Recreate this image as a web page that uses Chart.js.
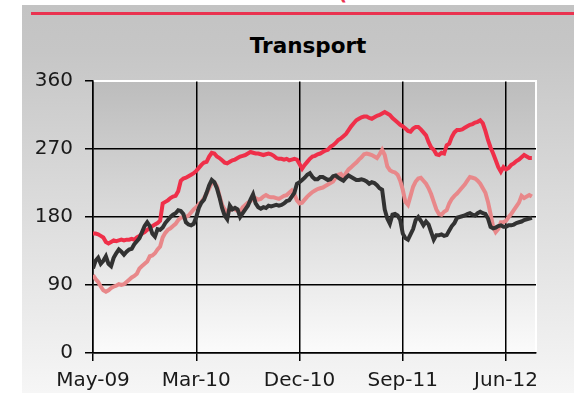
<!DOCTYPE html>
<html>
<head>
<meta charset="utf-8">
<script src="https://cdn.jsdelivr.net/npm/chart.js@4.4.1/dist/chart.umd.min.js"></script>
<style>
  html, body { margin: 0; padding: 0; background: #fff; }
  #wrap { position: relative; width: 574px; height: 393px; overflow: hidden; }
  #panel {
    position: absolute; left: 22px; top: 5px; right: 0; bottom: 0;
    background: linear-gradient(#c3c3c3 0%, #c6c6c6 12%, #f6f6f6 100%);
  }
  #rule { position: absolute; left: 31px; top: 12px; right: 0; height: 3px; background: #ea3350; }
  #cut { position: absolute; left: 338px; top: -19px; color: #ea3350; font: bold 20px "DejaVu Sans"; }
  #title {
    position: absolute; left: 188px; top: 34px; width: 240px; text-align: center;
    font: bold 21.5px/24px "DejaVu Sans"; color: #000;
  }
  #chart { position: absolute; left: 0; top: 0; }
</style>
</head>
<body>
<div id="wrap">
  <div id="panel"></div>
  <div id="rule"></div>
  <div id="cut">(</div>
  <div id="title">Transport</div>
  <canvas id="chart" width="574" height="393"></canvas>
</div>
<script>
// weekly closes, May-09 onwards
const tickLabels = ['May-09', 'Mar-10', 'Dec-10', 'Sep-11', 'Jun-12'];

const transportLine = [
    158, 158, 157, 155, 153, 147, 145, 147, 149, 148,
    149, 150, 149, 150, 150, 151, 150, 153, 155, 158,
    160, 163, 165, 168, 170, 172, 175, 198, 200, 202,
    205, 207, 208, 214, 228, 231, 232, 234, 236, 238,
    241, 245, 249, 252, 253, 260, 265, 264, 260, 258,
    255, 252, 251, 253, 255, 256, 258, 260, 261, 262,
    264, 266, 265, 264, 264, 263, 262, 263, 264, 263,
    261, 258, 257, 257, 256, 257, 255, 256, 257, 256,
    250, 244, 249, 253, 257, 260, 261, 263, 264, 266,
    268, 269, 273, 275, 278, 282, 284, 287, 290, 295,
    300, 304, 308, 310, 312, 313, 313, 311, 310, 312,
    314, 315, 317, 319, 317, 315, 311, 308, 305, 302,
    300, 297, 294, 293, 297, 299, 299, 296, 292, 288,
    279, 272, 269, 263, 262, 265, 264, 275, 277, 286,
    292, 295, 295, 296, 298, 300, 302, 303, 305, 306,
    308, 304, 294, 282, 272, 264, 255, 246, 240, 246,
    243, 245, 249, 251, 254, 256, 259, 262, 260, 258,
    258
];

const peerLine = [
    103, 98, 94, 88, 83, 81, 83, 86, 88, 89,
    91, 90, 91, 94, 97, 100, 102, 105, 112, 115,
    118, 121, 128, 129, 132, 137, 141, 153, 159, 163,
    165, 168, 171, 176, 179, 180, 180, 182, 186, 190,
    193, 197, 200, 205, 211, 218, 225, 226, 221, 208,
    196, 190, 187, 189, 191, 190, 188, 187, 193, 196,
    199, 201, 206, 205, 203, 204, 207, 209, 207, 206,
    206, 205, 204, 206, 208, 209, 212, 215, 210, 202,
    198, 199, 203, 207, 210, 213, 215, 217, 218, 219,
    221, 223, 225, 227, 232, 236, 237, 232, 238, 243,
    246, 249, 252, 256, 259, 263, 264, 263, 262, 260,
    258, 263, 269, 262, 247, 242, 240, 239, 236, 228,
    216, 200, 196, 208, 220, 227, 231, 232, 228, 224,
    218, 210, 200, 190, 184, 183, 187, 189, 198, 204,
    208, 211, 215, 219, 223, 228, 233, 232, 231, 228,
    224, 218, 212, 200, 184, 167, 160, 164, 173, 173,
    175, 180, 184, 189, 194, 199, 208, 205, 207, 209,
    207
];

const marketLine = [
    112, 122, 126, 118, 122, 128, 118, 115, 126, 132,
    137, 134, 130, 134, 137, 138, 144, 148, 152, 160,
    168, 173, 168, 158, 154, 164, 163, 166, 172, 176,
    180, 183, 185, 189, 188, 184, 173, 170, 169, 171,
    180, 192, 199, 203, 212, 222, 229, 226, 218, 206,
    192, 182, 177, 195, 190, 192, 190, 180, 185, 190,
    195, 203, 210, 198, 193, 191, 193, 192, 195, 194,
    195, 196, 195, 196, 198, 201, 202, 207, 212, 224,
    226, 229, 232, 236, 238, 233, 230, 230, 233, 233,
    231, 229, 230, 234, 235, 232, 230, 228, 232, 235,
    233, 231, 229, 229, 230, 229, 227, 224, 226, 225,
    222, 218, 216, 190, 178, 171, 183, 184, 182, 176,
    158, 152, 150, 157, 164, 176, 180, 175, 169, 174,
    170, 160, 150, 156, 156, 157, 155, 156, 162, 168,
    172, 179, 180, 181, 182, 184, 185, 183, 182, 185,
    187, 185, 184, 178, 167, 165, 166, 168, 169, 167,
    167, 169, 169, 170, 172, 173, 174, 176, 177, 178,
    179
];

const weeks = transportLine.map((_, i) => i);
const weeksPerTick = 40;

// grey fade behind the plot, white edge top and right
const plotBackground = {
    id: 'plotBackground',
    beforeDraw(chart) {
        const { ctx, chartArea: a } = chart;
        const g = ctx.createLinearGradient(0, a.top, 0, a.bottom);
        g.addColorStop(0, '#bcbcbc');
        g.addColorStop(1, '#fbfbfb');
        ctx.save();
        ctx.fillStyle = g;
        ctx.fillRect(a.left, a.top, a.right - a.left, a.bottom - a.top);
        ctx.strokeStyle = '#fff';
        ctx.lineWidth = 2;
        ctx.beginPath();
        ctx.moveTo(a.left, a.top);
        ctx.lineTo(a.right, a.top);
        ctx.lineTo(a.right, a.bottom);
        ctx.stroke();
        ctx.restore();
    }
};

const tickFont = { family: 'DejaVu Sans', size: 20 };

new Chart(document.getElementById('chart').getContext('2d'), {
    type: 'line',
    data: {
        labels: weeks,
        datasets: [
            { data: marketLine, borderColor: '#323232' },
            { data: peerLine, borderColor: '#e8888a' },
            { data: transportLine, borderColor: '#ef2f49' }
        ]
    },
    options: {
        responsive: false,
        animation: false,
        layout: { padding: { left: 0, top: 81, right: 38, bottom: 0 } },
        elements: {
            point: { radius: 0 },
            line: { tension: 0, borderWidth: 4, fill: false }
        },
        plugins: {
            legend: { display: false },
            tooltip: { enabled: false }
        },
        scales: {
            x: {
                type: 'linear',
                min: 0,
                max: 171.6,
                afterFit: (s) => { s.height = 40; },
                border: { color: '#000', width: 1.5 },
                grid: { color: '#000', lineWidth: 1.5, tickLength: 8 },
                ticks: {
                    stepSize: weeksPerTick,
                    includeBounds: false,
                    autoSkip: false,
                    maxRotation: 0,
                    padding: 8,
                    color: '#1a1a1a',
                    font: tickFont,
                    callback: (v) => tickLabels[v / weeksPerTick] ?? ''
                }
            },
            y: {
                min: 0,
                max: 360,
                afterFit: (s) => { s.width = 93; },
                border: { color: '#000', width: 1.5 },
                grid: {
                    color: (c) => (c.tick && c.tick.value === 360 ? '#fff' : '#000'),
                    tickColor: '#000',
                    lineWidth: 1.5,
                    tickLength: 8
                },
                ticks: {
                    stepSize: 90,
                    padding: 12,
                    color: '#1a1a1a',
                    font: tickFont
                }
            }
        }
    },
    plugins: [plotBackground]
});
</script>
</body>
</html>
